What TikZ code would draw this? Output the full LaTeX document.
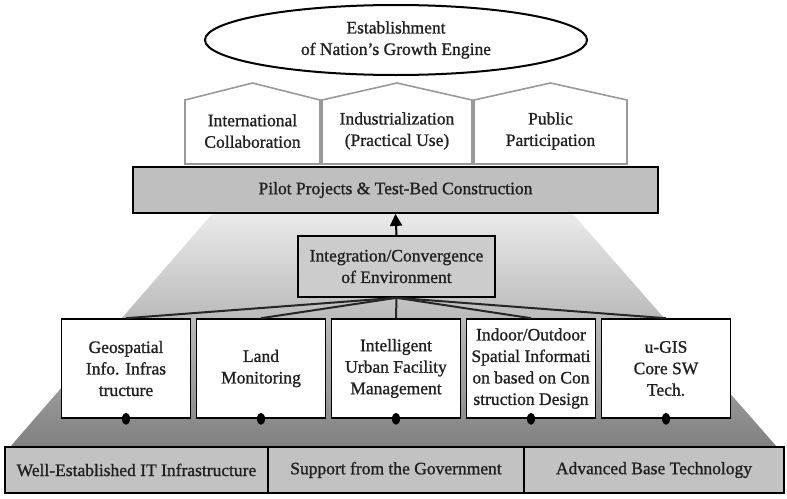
\documentclass[tikz,border=0pt]{standalone}
\usepackage{fontspec}
\setmainfont{Liberation Serif}[FakeBold=1]
\usetikzlibrary{shapes.geometric,arrows.meta}

\begin{document}
\begin{tikzpicture}[x=1pt,y=-1pt,
  font=\fontsize{17.5}{21.5}\selectfont,
  every node/.style={text=black!88, align=center},
  pillar/.style={draw=black, line width=1.6pt, fill=white,
    minimum width=129pt, minimum height=99pt, inner sep=0pt},
  house/.style={draw=black!40, line width=1.6pt, fill=white, line join=miter},
  bar/.style={draw=black, line width=1.4pt, fill=black!24,
    minimum height=46pt, inner sep=0pt},
  fan/.style={draw=black!85, line width=2pt},
  dot/.style={fill=black, ellipse, minimum width=8pt, minimum height=12pt, inner sep=0pt}
]
\useasboundingbox (0,0) rectangle (787,498);

% shaded pyramid behind the pillars
\shade[top color=black!8, bottom color=black!50]
  (213,213) -- (572,213) -- (777,447) -- (10,447) -- cycle;

% goal at the top
\node[draw=black, line width=2pt, fill=white, ellipse,
      minimum width=382pt, minimum height=70pt, inner sep=0pt]
  (goal) at (396,40) {Establishment\\of Nation's Growth Engine};

% three houses standing on the pilot bar
\foreach \l/\r/\t [count=\i] in {185/320/International\\Collaboration,
                                322/472/Industrialization\\(Practical Use),
                                474/627/Public\\Participation}{
  \draw[house] (\l,164) -- (\l,100) -- ({(\l+\r)/2},83) -- (\r,100) -- (\r,164) -- cycle;
  \node (house\i) at ({(\l+\r)/2},131) {\t};
}

% pilot projects bar
\node[draw=black, line width=1.8pt, fill=black!25, minimum width=525pt,
      minimum height=46pt, inner sep=0pt]
  (pilot) at (395.5,190) {Pilot Projects \& Test-Bed Construction};

% integration box
\node[draw=black, line width=1.6pt, fill=black!20, minimum width=197pt,
      minimum height=61pt, inner sep=0pt]
  (integ) at (396.5,266.5) {Integration/Convergence\\of Environment};

\draw[line width=2pt, -{Triangle[length=12pt,width=12pt]}] (integ.north) -- (pilot.south);

% five pillars
\node[pillar] (p1) at (126,368.5) {Geospatial\\Info. Infras\\tructure};
\node[pillar] (p2) at (261,368.5) {Land\\Monitoring};
\node[pillar] (p3) at (396,368.5) {Intelligent\\Urban Facility\\Management};
\node[pillar] (p4) at (531,368.5) {Indoor/Outdoor\\Spatial Informati\\on based on Con\\struction Design};
\node[pillar] (p5) at (666,368.5) {u-GIS\\Core SW\\Tech.};

\foreach \i in {1,...,5}{
  \draw[fan] (integ.south) -- (p\i.north);
  \node[dot] (d\i) at (p\i.south) {};
}

% foundation bar
\node[bar, minimum width=263pt] (f1) at (136.5,470) {Well-Established IT Infrastructure};
\node[bar, minimum width=256pt] (f2) at (396,470) {Support from the Government};
\node[bar, minimum width=260pt] (f3) at (654,470) {Advanced Base Technology};
\end{tikzpicture}
\end{document}
